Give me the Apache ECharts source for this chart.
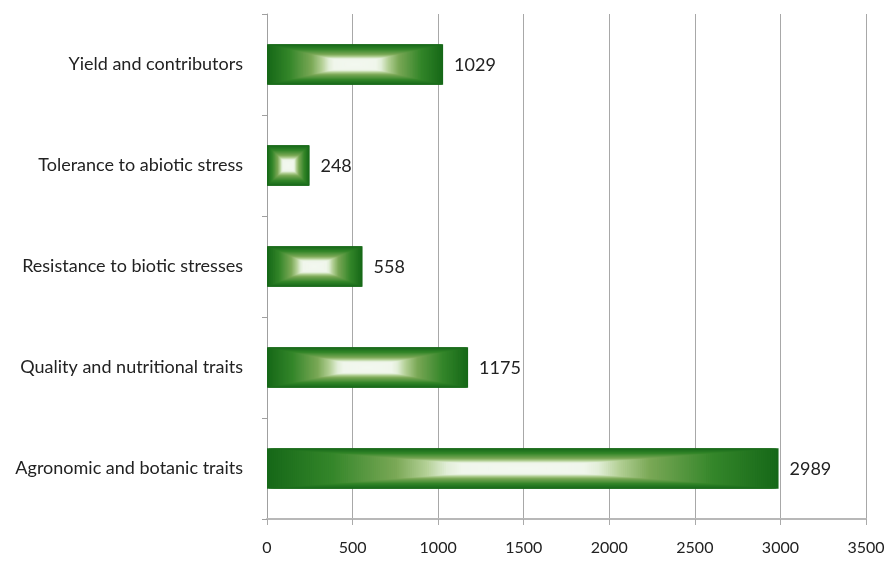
<!DOCTYPE html>
<html>
<head>
<meta charset="utf-8">
<script src="https://cdn.jsdelivr.net/npm/echarts@6/dist/echarts.min.js"></script>
<style>
  html, body { margin: 0; padding: 0; background: #fff; }
  #chart { width: 891px; height: 561px; }
</style>
</head>
<body>
<div id="chart"></div>
<script>
var categories = ['Yield and contributors', 'Tolerance to abiotic stress', 'Resistance to biotic stresses', 'Quality and nutritional traits', 'Agronomic and botanic traits'];
var values = [1029, 248, 558, 1175, 2989];
var xTicks = [0, 500, 1000, 1500, 2000, 2500, 3000, 3500];

// rectangle gradient: edge (t=0) -> center (t=1)
var stops = [
    [0, [22, 104, 24]],
    [0.25, [52, 134, 42]],
    [0.5, [122, 168, 86]],
    [0.62, [180, 208, 150]],
    [0.7, [226, 238, 216]],
    [0.76, [240, 246, 236]],
    [1, [243, 248, 240]]
];

function colorAt(t) {
    for (var i = 1; i < stops.length; i++) {
        if (t <= stops[i][0]) {
            var a = stops[i - 1], b = stops[i];
            var k = (t - a[0]) / (b[0] - a[0]);
            var c = a[1].map(function (v, j) { return Math.round(v + (b[1][j] - v) * k); });
            return 'rgb(' + c.join(',') + ')';
        }
    }
    return 'rgb(' + stops[stops.length - 1][1].join(',') + ')';
}

var chart = echarts.init(document.getElementById('chart'));

function renderBar(params, api) {
    var idx = api.value(0);
    var val = api.value(1);
    var start = api.coord([0, idx]);
    var end = api.coord([val, idx]);
    var band = api.size([0, 1])[1];
    var h = band * 0.4;
    var w = end[0] - start[0];
    var cx = start[0] + w / 2;
    var cy = start[1];
    var children = [];
    var n = 120;
    for (var i = 0; i < n; i++) {
        var s = 1 - i / n;
        children.push({
            type: 'rect',
            shape: { x: cx - w * s / 2, y: cy - h * s / 2, width: w * s, height: h * s },
            style: { fill: colorAt(i / n) },
            silent: true
        });
    }
    children.push({
        type: 'text',
        style: {
            x: end[0] + 11,
            y: cy + 1,
            text: String(val),
            fill: '#222',
            font: '18px Lato',
            verticalAlign: 'middle',
            align: 'left'
        }
    });
    return { type: 'group', children: children };
}

var option = {
    animation: false,
    grid: { left: 267, right: 25, top: 14, bottom: 42 },
    xAxis: {
        type: 'value',
        min: 0,
        max: 3500,
        interval: 500,
        axisLine: { show: true, lineStyle: { color: '#b8b8b8', width: 2 } },
        axisTick: { show: true, length: 6, lineStyle: { color: '#aaa' } },
        axisLabel: {
            margin: 21,
            color: '#222',
            fontSize: 16,
            fontFamily: 'Lato',
            formatter: function (v) { return xTicks.indexOf(v) >= 0 ? String(v) : ''; }
        },
        splitLine: { show: true, lineStyle: { color: '#a8a8a8', width: 1 } }
    },
    yAxis: {
        type: 'category',
        inverse: true,
        data: categories,
        axisLine: { show: true, lineStyle: { color: '#a0a0a0', width: 1 } },
        axisTick: { show: true, length: 5, lineStyle: { color: '#a0a0a0' } },
        axisLabel: {
            margin: 24,
            color: '#222',
            fontSize: 18,
            fontFamily: 'Lato'
        }
    },
    series: [{
        type: 'custom',
        renderItem: renderBar,
        encode: { x: 1, y: 0 },
        data: values.map(function (v, i) { return [i, v]; })
    }]
};

chart.setOption(option);
</script>
</body>
</html>
